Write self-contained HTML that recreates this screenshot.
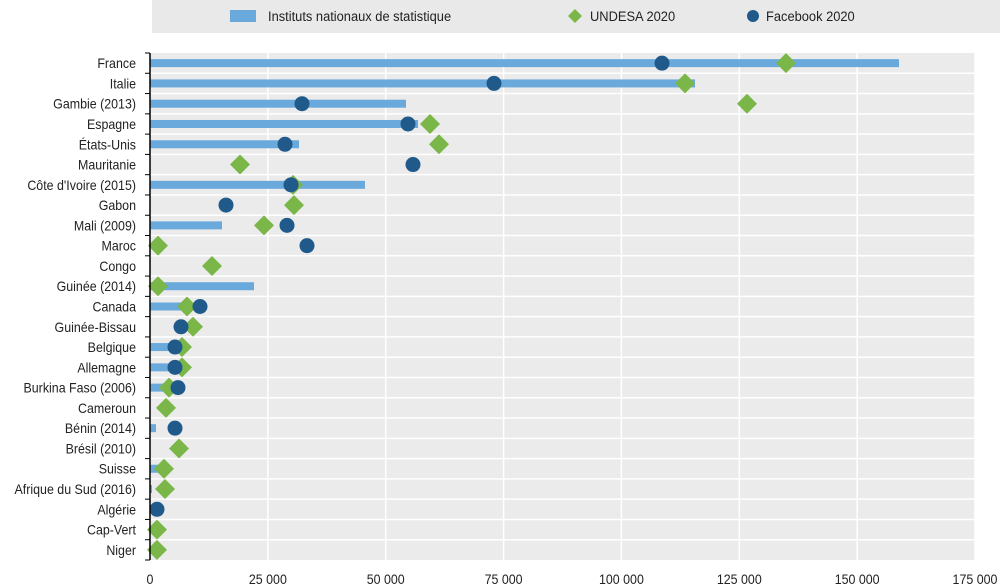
<!DOCTYPE html>
<html><head><meta charset="utf-8"><style>
html,body{margin:0;padding:0;background:#fff;}
svg{display:block;font-family:"Liberation Sans",sans-serif;}
</style></head><body>
<svg width="1000" height="587" xmlns="http://www.w3.org/2000/svg">
<rect x="152" y="0" width="848" height="33" fill="#e9e9e9"/>
<rect x="230" y="10" width="26" height="12" fill="#6aa9dc"/>
<text transform="translate(268,21) scale(0.92,1)" font-size="14" fill="#222">Instituts nationaux de statistique</text>
<polygon points="575,9 582,16 575,23 568,16" fill="#7ab648"/>
<text transform="translate(590,21) scale(0.92,1)" font-size="14" fill="#222">UNDESA 2020</text>
<circle cx="753" cy="16" r="6" fill="#1f5a8a"/>
<text transform="translate(766,21) scale(0.92,1)" font-size="14" fill="#222">Facebook 2020</text>
<rect x="150" y="53" width="825" height="507" fill="#ebebeb"/>
</svg>
<script>
(function(){
const svg=document.querySelector('svg');const ns="http://www.w3.org/2000/svg";
function el(t,a,txt){const e=document.createElementNS(ns,t);for(const k in a)e.setAttribute(k,a[k]);if(txt!==undefined)e.textContent=txt;svg.appendChild(e);return e;}
const rows=[
["France",899,786,662],["Italie",695,685,494],["Gambie (2013)",406,747,302],["Espagne",418,430,408],
["États-Unis",299,439,285],["Mauritanie",null,240,413],["Côte d'Ivoire (2015)",365,293,291],["Gabon",null,294,226],
["Mali (2009)",222,264,287],["Maroc",null,158,307],["Congo",null,212,null],["Guinée (2014)",254,158,null],
["Canada",190,187,200],["Guinée-Bissau",null,193,181],["Belgique",180,182,175],["Allemagne",180,182,175],
["Burkina Faso (2006)",168,169,178],["Cameroun",null,166,null],["Bénin (2014)",156,null,175],["Brésil (2010)",null,179,null],
["Suisse",160,164,null],["Afrique du Sud (2016)",152,165,null],["Algérie",null,null,157],["Cap-Vert",null,157,null],["Niger",null,157,null]];
const T0=53,h=20.28;
for(let k=1;k<8;k++){const x=150+k*117.857;el('line',{x1:x,y1:53,x2:x,y2:560,stroke:'#fff','stroke-width':1.5});}
for(let i=1;i<25;i++){const y=T0+i*h;el('line',{x1:150,y1:y,x2:975,y2:y,stroke:'#fff','stroke-width':1.5});}
rows.forEach((r,i)=>{const y=T0+h*(i+0.5);if(r[1])el('rect',{x:150,y:y-4,width:r[1]-150,height:8,fill:'#6aa9dc'});});
rows.forEach((r,i)=>{const y=T0+h*(i+0.5);if(r[2]){const x=r[2];el('polygon',{points:`${x},${y-10} ${x+10},${y} ${x},${y+10} ${x-10},${y}`,fill:'#7ab648'});}});
rows.forEach((r,i)=>{const y=T0+h*(i+0.5);if(r[3])el('circle',{cx:r[3],cy:y,r:7.5,fill:'#1f5a8a'});
 el('text',{transform:`translate(136,${y+5}) scale(0.92,1)`,'font-size':13.5,'text-anchor':'end',fill:'#222'},r[0]);});
el('line',{x1:150,y1:53,x2:150,y2:560,stroke:'#000','stroke-width':1.5});
for(let i=0;i<=25;i++){const y=T0+i*h;el('line',{x1:145,y1:y,x2:150,y2:y,stroke:'#000','stroke-width':1});}
const labs=["0","25 000","50 000","75 000","100 000","125 000","150 000","175 000"];
labs.forEach((l,k)=>el('text',{transform:`translate(${150+k*117.857},584) scale(0.92,1)`,'font-size':13.5,'text-anchor':'middle',fill:'#222'},l));
})();
</script>
</body></html>
